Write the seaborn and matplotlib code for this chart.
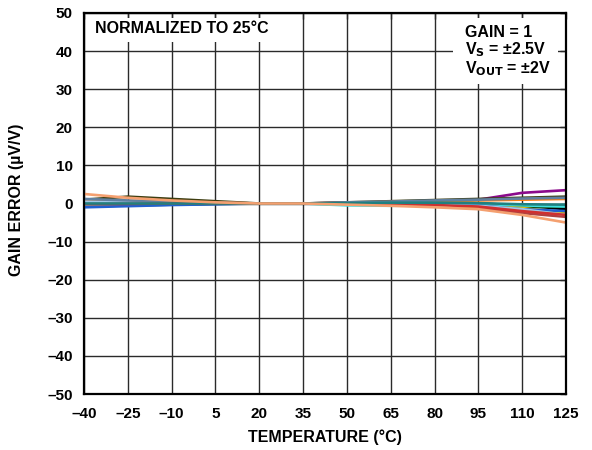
import numpy as np
import pandas as pd
import matplotlib
matplotlib.use("Agg")
import matplotlib.pyplot as plt
import seaborn as sns

temps = [-40, -25, -10, 5, 20, 35, 50, 65, 80, 95, 110, 125]
s_purple = [0.5, 0.3, 0.2, 0.1, 0, 0, 0.2, 0.4, 0.7, 1.0, 2.8, 3.5]
s_olive = [1.0, 1.8, 1.2, 0.6, 0, 0, 0.3, 0.6, 0.9, 1.2, 1.5, 1.8]
s_black = [0.3, 0.5, 0.4, 0.2, 0, 0, 0.1, 0.2, 0.2, 0.0, -0.5, -1.5]
s_dgreen = [-0.8, -0.5, -0.3, -0.1, 0, 0, 0.0, -0.1, -0.3, -0.6, -1.0, -0.8]
s_orange = [0.8, 0.6, 0.4, 0.2, 0, 0, 0.2, 0.4, 0.6, 0.8, 1.0, 1.2]
s_salmon = [2.5, 1.5, 0.8, 0.3, 0, 0, -0.3, -0.6, -1.0, -1.5, -3.0, -5.0]
s_brown = [0.0, 0.0, 0.0, 0.0, 0, 0, -0.2, -0.4, -0.7, -1.2, -2.5, -3.5]
s_cyan = [-0.3, -0.2, -0.1, 0, 0, 0, -0.5, -0.6, -0.5, -0.5, -0.5, -0.8]
s_gold = [0.2, 0.1, 0.1, 0.0, 0, 0, 0.0, -0.2, -0.5, -0.8, -1.2, -2.5]
s_blue = [-1.0, -0.7, -0.4, -0.2, 0, 0, 0.1, 0.0, -0.2, -0.5, -1.5, -2.0]
s_lblue = [0.5, 0.3, 0.2, 0.1, 0, 0, -0.1, -0.3, -0.4, -0.6, -1.5, -3.0]
s_steel = [1.2, 0.8, 0.5, 0.2, 0, 0, 0.3, 0.5, 0.8, 1.0, 1.3, 1.5]
s_red = [-0.2, -0.1, 0, 0, 0, 0, 0, -0.2, -0.4, -0.8, -2.0, -3.0]
s_teal = [0.0, 0.0, 0.0, 0, 0, 0, 0.1, 0.2, 0.2, 0.1, -0.2, -0.3]

series = {
    "purple": s_purple, "olive": s_olive, "black": s_black, "dgreen": s_dgreen,
    "orange": s_orange, "brown": s_brown, "cyan": s_cyan, "gold": s_gold,
    "blue": s_blue, "lblue": s_lblue, "steel": s_steel, "red": s_red,
    "teal": s_teal, "salmon": s_salmon,
}
colors = {
    "purple": "#8b0a8b", "olive": "#3d3d10", "black": "#000000", "dgreen": "#0b4d1a",
    "orange": "#ff7f0e", "brown": "#b04040", "cyan": "#40e0e0", "gold": "#f0c000",
    "blue": "#2060d0", "lblue": "#a0c8e8", "steel": "#6080a0", "red": "#d03030",
    "teal": "#208080", "salmon": "#f4a070",
}

xticks = [-40, -25, -10, 5, 20, 35, 50, 65, 80, 95, 110, 125]
yticks = [50, 40, 30, 20, 10, 0, -10, -20, -30, -40, -50]
ytick_labels = ["50", "40", "30", "20", "10", "0", "–10", "–20", "–30", "–40", "–50"]
xtick_labels = ["–40", "–25", "–10", "5", "20", "35", "50", "65", "80", "95", "110", "125"]

rows = []
for name, vals in series.items():
    for t, v in zip(temps, vals):
        rows.append({"temp": t, "err": v, "series": name})
df = pd.DataFrame(rows)

sns.set_style("white")
plt.rcParams["font.family"] = ["Liberation Sans", "DejaVu Sans"]
plt.rcParams["font.weight"] = "bold"
plt.rcParams["text.color"] = "black"
plt.rcParams["axes.labelcolor"] = "black"
plt.rcParams["xtick.color"] = "black"
plt.rcParams["ytick.color"] = "black"

fig = plt.figure(figsize=(5.92, 4.5), dpi=100)
ax = fig.add_axes([84/592, 56/450, 482/592, 381/450])

sns.lineplot(data=df, x="temp", y="err", hue="series", palette=colors,
             linewidth=1.9, legend=False, ax=ax, zorder=3)

ax.set_xlim(-40, 125)
ax.set_ylim(-50, 50)
ax.set_xticks(xticks)
ax.set_xticklabels(xtick_labels)
ax.set_yticks(yticks)
ax.set_yticklabels(ytick_labels)
ax.grid(True, color="#2a2a2a", linewidth=1.0, zorder=0)
ax.set_axisbelow(True)
for sp in ax.spines.values():
    sp.set_linewidth(1.6)
    sp.set_color("black")
    sp.set_zorder(5)
ax.tick_params(axis="both", which="both", direction="in", length=4, width=1,
               color="#2a2a2a", labelcolor="black", top=True, right=True, labelsize=11)
ax.tick_params(axis="x", pad=9)
ax.tick_params(axis="y", pad=8)
for lab in ax.get_xticklabels() + ax.get_yticklabels():
    lab.set_fontweight("bold")
    lab.set_color("black")
ax.set_xlabel("TEMPERATURE (°C)", fontsize=11.5, fontweight="bold", color="black")
ax.set_ylabel("GAIN ERROR (µV/V)", fontsize=11.5, fontweight="bold", color="black")
ax.xaxis.set_label_coords(0.5, -(437 - 394) / 381)
ax.xaxis.label.set_va("center")
ax.yaxis.set_label_coords(-(84 - 17) / 482, 0.509)
ax.yaxis.label.set_va("center")

# white annotation boxes
ax.add_patch(plt.Rectangle((-39.4, 42.4), 64.0, 6.3, facecolor="white", edgecolor="none",
                           transform=ax.transData, zorder=2))
ax.add_patch(plt.Rectangle((86.3, 31.4), 36.0, 17.3, facecolor="white", edgecolor="none",
                           transform=ax.transData, zorder=2))
ax.text(-36.2, 46.0, "NORMALIZED TO 25°C", fontsize=11.5, fontweight="bold", va="center",
        color="black", zorder=4)
ax.text(90.4, 45.0, "GAIN = 1", fontsize=11.5, fontweight="bold", va="center",
        color="black", zorder=4)
ax.text(90.4, 40.3, "V$_\\mathbf{S}$ = ±2.5V", fontsize=11.5, fontweight="bold", va="center",
        color="black", zorder=4)
ax.text(90.4, 35.3, "V$_\\mathbf{OUT}$ = ±2V", fontsize=11.5, fontweight="bold", va="center",
        color="black", zorder=4)

fig.savefig("out.png", dpi=100)
